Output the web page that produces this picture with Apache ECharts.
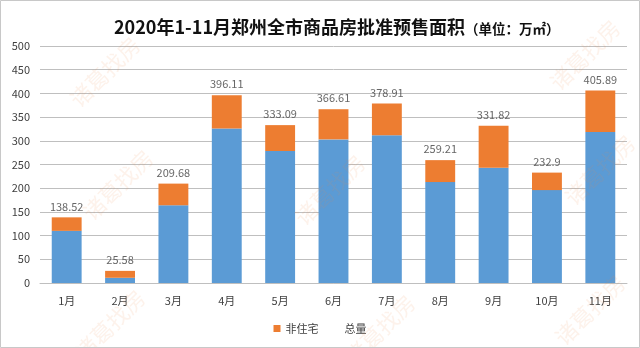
<!DOCTYPE html>
<html>
<head>
<meta charset="utf-8">
<script src="https://cdn.jsdelivr.net/npm/echarts@6/dist/echarts.min.js"></script>
<style>html,body{margin:0;padding:0;background:#fff}#c{width:640px;height:348px}</style>
</head>
<body>
<div id="c"></div>
<script>
const categories = ['1月','2月','3月','4月','5月','6月','7月','8月','9月','10月','11月'];
const totalValues = [138.52, 25.58, 209.68, 396.11, 333.09, 366.61, 378.91, 259.21, 331.82, 232.9, 405.89];
const residentialValues = [110, 11, 164, 326, 278.5, 303, 311.5, 213, 243, 196, 318.5];
const nonResidentialValues = totalValues.map((t, i) => +(t - residentialValues[i]).toFixed(2));
const yTicks = [0, 50, 100, 150, 200, 250, 300, 350, 400, 450, 500];

const FONT = '"Noto Sans CJK SC", "Noto Sans", sans-serif';
const chart = echarts.init(document.getElementById('c'), null, {renderer: 'canvas'});

const wm = [];
[[105, 72], [118, 185], [330, 190], [585, 55], [110, 325], [590, 310], [600, 170], [380, 330]].forEach(p => {
  wm.push({
    type: 'text', x: p[0], y: p[1], rotation: Math.PI / 4, z: 100, silent: true,
    style: {text: '诸葛找房', fontSize: 22, fontFamily: FONT, fill: 'rgba(240,140,70,0.11)', align: 'center', verticalAlign: 'middle'}
  });
});

chart.setOption({
  animation: false,
  backgroundColor: '#ffffff',
  title: {
    text: '{a|2020年1-11月郑州全市商品房批准预售面积}{b|（单位：万㎡）}',
    left: 114, top: 16, padding: 0,
    textStyle: {
      rich: {
        a: {fontSize: 18, lineHeight: 20, fontWeight: 'bold', color: '#111', fontFamily: FONT, verticalAlign: 'bottom'},
        b: {fontSize: 13.5, lineHeight: 20, fontWeight: 'bold', color: '#111', fontFamily: FONT, verticalAlign: 'bottom'}
      }
    }
  },
  legend: {
    bottom: 9, left: 'center',
    itemWidth: 7, itemHeight: 7, itemGap: 14,
    textStyle: {fontSize: 11, color: '#404040', fontFamily: FONT},
    data: [
      {name: '非住宅', icon: 'rect'},
      {name: '总量', icon: 'rect', itemStyle: {color: 'rgba(0,0,0,0)'}}
    ]
  },
  grid: {left: 40, right: 13, top: 46, bottom: 65},
  xAxis: {
    type: 'category', data: categories,
    axisTick: {show: false},
    axisLine: {lineStyle: {color: '#bfbfbf'}},
    axisLabel: {fontSize: 11, color: '#404040', margin: 12, fontFamily: FONT}
  },
  yAxis: {
    type: 'value', min: yTicks[0], max: yTicks[yTicks.length - 1], interval: 50,
    axisLine: {show: false}, axisTick: {show: false},
    splitLine: {lineStyle: {color: '#bfbfbf'}},
    axisLabel: {fontSize: 11, color: '#404040', margin: 10, fontFamily: FONT}
  },
  series: [
    {
      name: '住宅', type: 'bar', stack: 's', data: residentialValues, barWidth: '56%',
      itemStyle: {color: '#5b9bd5'}
    },
    {
      name: '非住宅', type: 'bar', stack: 's', data: nonResidentialValues, barWidth: '56%',
      itemStyle: {color: '#ed7d31'}
    },
    {
      name: '总量', type: 'scatter', data: totalValues, symbol: 'circle', symbolSize: 1,
      itemStyle: {color: 'rgba(0,0,0,0)'}, z: 10,
      label: {show: true, position: 'top', distance: 5, fontSize: 11, color: '#404040', fontFamily: FONT}
    }
  ],
  graphic: [
    {type: 'rect', shape: {x: 0.5, y: 0.5, width: 639, height: 347}, style: {fill: 'none', stroke: '#c8c8c8', lineWidth: 1}, silent: true, z: 101}
  ].concat(wm)
});
</script>
</body>
</html>
